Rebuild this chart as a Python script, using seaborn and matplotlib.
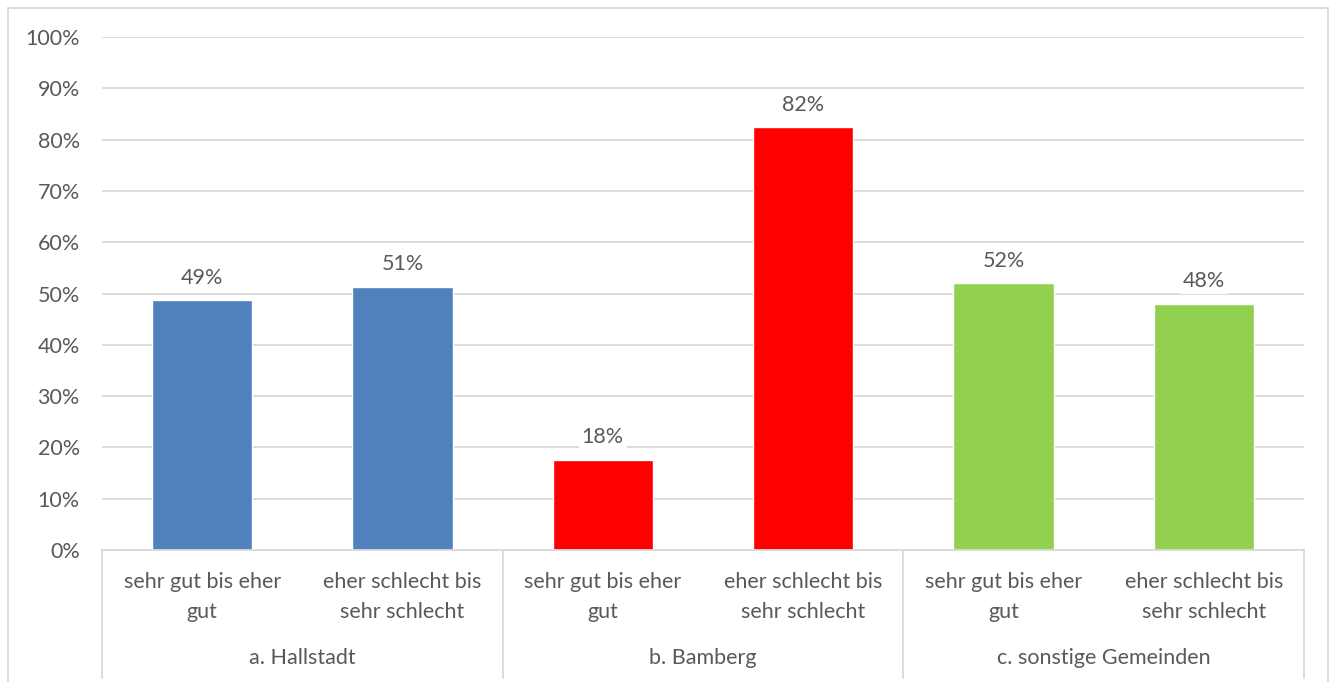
"""
Bewertung nach Gemeinde: gruppiertes Säulendiagramm mit Kategorieachse in zwei Ebenen.
"""

import pandas as pd
import matplotlib.pyplot as plt
import matplotlib.transforms as mtransforms
from matplotlib.patches import Rectangle
import seaborn as sns

groups = ['a. Hallstadt', 'b. Bamberg', 'c. sonstige Gemeinden']
answers = ['sehr gut bis eher\ngut', 'eher schlecht bis\nsehr schlecht']
values = [48.7, 51.3, 17.6, 82.4, 52.0, 48.0]
group_colors = ['#4f81bd', '#ff0000', '#92d050']

TEXT = '#595959'
GRID = '#d9d9d9'
FS = 15.5

sns.set_theme(style='white')
plt.rcParams['font.family'] = ['Lato', 'DejaVu Sans']

df = pd.DataFrame({
    'slot': [str(i) for i in range(len(values))],
    'group': [g for g in groups for _ in answers],
    'answer': answers * len(groups),
    'value': values,
})

fig = plt.figure(figsize=(13.32, 6.82), dpi=100)
ax = fig.add_axes([102 / 1332, 1 - 550 / 682, (1304 - 102) / 1332, (550 - 37) / 682])

sns.barplot(data=df, x='slot', y='value', hue='group', palette=group_colors,
            dodge=False, width=0.5, legend=False, ax=ax, saturation=1)

ax.set_ylim(0, 100)
ax.set_xlim(-0.5, len(values) - 0.5)
ax.set_yticks(range(0, 101, 10))
ax.set_yticklabels([f'{t}%' for t in range(0, 101, 10)], fontsize=FS, color=TEXT)
ax.tick_params(axis='y', length=0, pad=16)
ax.set_xticks([])
ax.set_xlabel('')
ax.set_ylabel('')
ax.yaxis.grid(True, color=GRID, linewidth=1.3)
ax.set_axisbelow(True)
for side in ['left', 'right', 'top']:
    ax.spines[side].set_visible(False)
ax.spines['bottom'].set_color(GRID)
ax.spines['bottom'].set_linewidth(1.3)

# Datenbeschriftungen
for cont in ax.containers:
    ax.bar_label(cont, fmt='%.0f%%', padding=9, fontsize=FS, color=TEXT,
                 bbox=dict(facecolor='white', edgecolor='none', pad=2))

# Kategorieachse (zwei Ebenen)
trans = mtransforms.blended_transform_factory(ax.transData, ax.transAxes)
for i, row in df.iterrows():
    ax.text(i, -0.0916, row['answer'], transform=trans, ha='center', va='center',
            fontsize=FS, color=TEXT, linespacing=1.6)
for gi, g in enumerate(groups):
    ax.text(gi * 2 + 0.5, -0.2105, g, transform=trans, ha='center', va='center',
            fontsize=FS, color=TEXT)
for x in [-0.5, 1.5, 3.5, 5.5]:
    ax.plot([x, x], [0, -0.25], transform=trans, color=GRID, linewidth=1.3,
            clip_on=False)

# Diagrammrahmen
fig.patches.append(Rectangle((8 / 1332, -0.05), 1320 / 1332, 1 - 8 / 682 + 0.05,
                             transform=fig.transFigure, fill=False,
                             edgecolor=GRID, linewidth=1.3))

fig.savefig('out.png', dpi=100)
